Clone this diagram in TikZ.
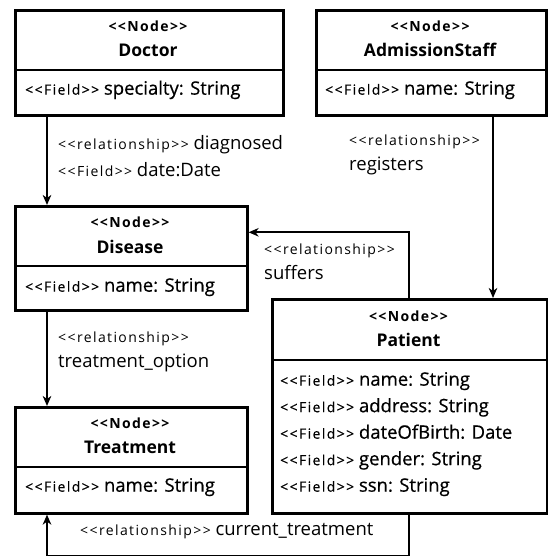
\documentclass[tikz,border=0pt]{standalone}
\usepackage{fontspec}
\setmainfont{Open Sans}
\newfontfamily\tracked[LetterSpace=10]{Open Sans}
\newfontfamily\boxfont[FakeBold=0.6]{Open Sans}
\newfontfamily\trackedbox[LetterSpace=10,FakeBold=0.5]{Open Sans}
\usetikzlibrary{arrows.meta,shadows}

% small, tracked stereotype text and the larger body text
\newcommand{\stereo}[1]{{\tracked\fontsize{14}{16}\selectfont\bfseries #1}}
\newcommand{\clsname}[1]{{\fontsize{17.5}{20}\selectfont\bfseries #1}}
\newcommand{\tag}[1]{{\tracked\fontsize{14}{16}\selectfont <{}<#1>{}>}}
\newcommand{\boxtag}[1]{{\trackedbox\fontsize{14}{16}\selectfont <{}<#1>{}>}}
\newcommand{\fld}[1]{\boxtag{Field} {\boxfont #1}}
\newcommand{\rel}{\tag{relationship}}

\tikzset{
  classbox/.style={draw, line width=2.6pt, fill=white, inner sep=0pt, anchor=north west,
    drop shadow={shadow xshift=1.2pt, shadow yshift=-1.6pt, opacity=.3, fill=gray}},
  divider/.style={line width=2.6pt},
  conn/.style={line width=2pt, -{Stealth[length=10pt,width=8.5pt,inset=3pt]}},
  title/.style={anchor=center, inner sep=0pt},
  row/.style={anchor=mid west, inner sep=0pt, font=\fontsize{18.5}{21}\selectfont},
  lbl/.style={row},
}

\begin{document}
\begin{tikzpicture}[x=1pt, y=-1pt]
\useasboundingbox (0,0) rectangle (547,556);

% Doctor
\node[classbox, minimum width=268pt, minimum height=105pt] (doctor) at (14,9) {};
\draw[divider] (14,70) -- (282,70);
\node[title] (doctorS) at (148,26) {\stereo{<{}<Node>{}>}};
\node[title] (doctorN) at (148,50) {\clsname{Doctor}};
\node[row] (doctorF) at (25,92) {\fld{specialty: String}};

% AdmissionStaff
\node[classbox, minimum width=230pt, minimum height=105pt] (admission) at (315,9) {};
\draw[divider] (315,70) -- (545,70);
\node[title] (admissionS) at (430,26) {\stereo{<{}<Node>{}>}};
\node[title] (admissionN) at (430,50) {\clsname{AdmissionStaff}};
\node[row] (admissionF) at (325,92) {\fld{name: String}};

% Disease
\node[classbox, minimum width=232pt, minimum height=104pt] (disease) at (14,205) {};
\draw[divider] (14,266) -- (246,266);
\node[title] (diseaseS) at (130,222) {\stereo{<{}<Node>{}>}};
\node[title] (diseaseN) at (130,247) {\clsname{Disease}};
\node[row] (diseaseF) at (25,289) {\fld{name: String}};

% Treatment
\node[classbox, minimum width=232pt, minimum height=106pt] (treatment) at (14,406) {};
\draw[divider] (14,467) -- (246,467);
\node[title] (treatmentS) at (130,423) {\stereo{<{}<Node>{}>}};
\node[title] (treatmentN) at (130,447) {\clsname{Treatment}};
\node[row] (treatmentF) at (25,489) {\fld{name: String}};

% Patient
\node[classbox, minimum width=275pt, minimum height=214pt] (patient) at (271,298) {};
\draw[divider] (271,360) -- (546,360);
\node[title] (patientS) at (408.5,316) {\stereo{<{}<Node>{}>}};
\node[title] (patientN) at (408.5,340) {\clsname{Patient}};
\node[row] (patientF1) at (280,383) {\fld{name: String}};
\node[row] (patientF2) at (280,409.5) {\fld{address: String}};
\node[row] (patientF3) at (280,436) {\fld{dateOfBirth: Date}};
\node[row] (patientF4) at (280,462.5) {\fld{gender: String}};
\node[row] (patientF5) at (280,489) {\fld{ssn: String}};

% Relationships
\draw[conn] ([xshift=33pt]doctor.south west) -- ([xshift=33pt]disease.north west);
\node[lbl] (diagL1) at (58,147) {\rel\ diagnosed};
\node[lbl] (diagL2) at (58,174) {\tag{Field} date:Date};

\draw[conn] ([xshift=178pt]admission.south west) -- ([xshift=178pt]admission.south west |- patient.north);
\node[lbl] (regL1) at (349,143) {\rel};
\node[lbl] (regL2) at (349,168) {registers};

\draw[conn] ([xshift=138pt]patient.north west) |- ([yshift=26pt]disease.east);
\node[lbl] (sufL1) at (264,252) {\rel};
\node[lbl] (sufL2) at (264,277) {suffers};

\draw[conn] ([xshift=33pt]disease.south west) -- ([xshift=33pt]treatment.north west);
\node[lbl] (treatL1) at (58,340) {\rel};
\node[lbl] (treatL2) at (58,365) {treatment\_option};

\coordinate (curBend) at ([xshift=138pt,yshift=-41pt]patient.south west);
\draw[conn] ([xshift=138pt]patient.south west) -- (curBend) -| ([xshift=33pt]treatment.south west);
\node[lbl] (curL) at (80,533) {\rel\ current\_treatment};

\end{tikzpicture}
\end{document}
